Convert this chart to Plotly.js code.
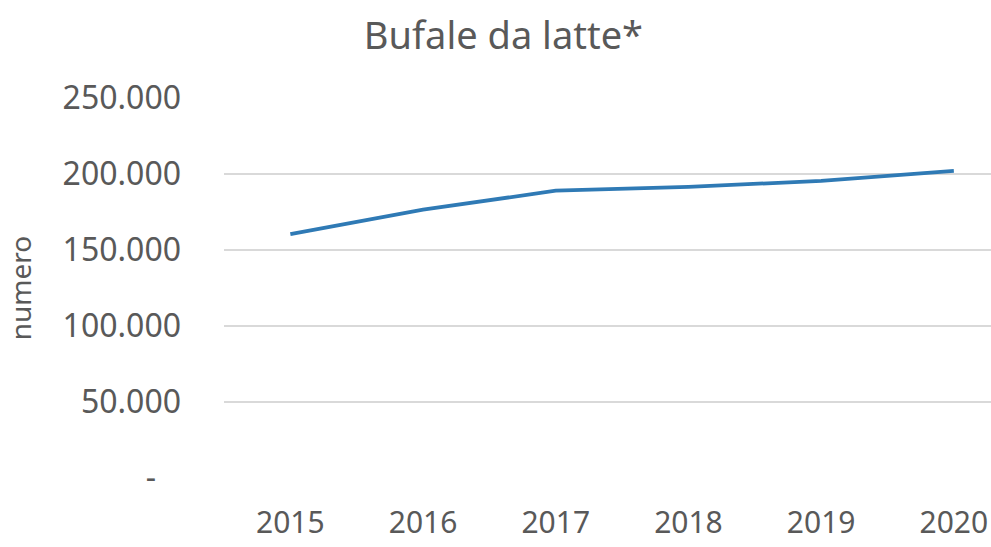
<!DOCTYPE html>
<html>
<head>
<meta charset="utf-8">
<script src="https://cdn.plot.ly/plotly-3.0.1.min.js"></script>
<style>html,body{margin:0;padding:0;background:#fff;}#chart{width:991px;height:547px;}</style>
</head>
<body>
<div id="chart"></div>
<script>
const years = ['2015', '2016', '2017', '2018', '2019', '2020'];
const buffaloes = [160500, 176500, 189000, 191500, 195500, 202000];
const yTickVals = [0, 50000, 100000, 150000, 200000, 250000];
const yTickText = ['-\u00a0\u00a0\u00a0', '50.000', '100.000', '150.000', '200.000', '250.000'];
const chartTitle = 'Bufale da latte*';
const yTitle = 'numero';

const fontFam = '"Noto Sans", "Open Sans", sans-serif';
const textColor = '#595959';

Plotly.newPlot('chart', [{
  type: 'scatter',
  mode: 'lines',
  x: years,
  y: buffaloes,
  line: {color: '#2f7ab5', width: 3.8},
  hoverinfo: 'skip'
}], {
  width: 991, height: 547,
  paper_bgcolor: '#ffffff', plot_bgcolor: '#ffffff',
  margin: {l: 224, r: 0, t: 98, b: 69},
  showlegend: false,
  title: {text: chartTitle, x: 0.508, xanchor: 'center', xref: 'container', y: 0.935, yanchor: 'middle', yref: 'container',
          font: {family: fontFam, size: 38, color: textColor}},
  xaxis: {
    type: 'category', range: [-0.5, 5.28],
    showgrid: false, zeroline: false, showline: false, ticks: '',
    tickfont: {family: fontFam, size: 30, color: textColor},
    ticklabelstandoff: 24
  },
  yaxis: {
    range: [0, 250000],
    tickvals: yTickVals, ticktext: yTickText,
    showgrid: true, gridcolor: '#d9d9d9', gridwidth: 2,
    zeroline: false, showline: false, ticks: '',
    tickfont: {family: fontFam, size: 32, color: textColor},
    ticklabelstandoff: 42,
    title: {text: yTitle, standoff: 22, font: {family: fontFam, size: 28, color: textColor}}
  }
}, {displayModeBar: false, staticPlot: true});
</script>
</body>
</html>
